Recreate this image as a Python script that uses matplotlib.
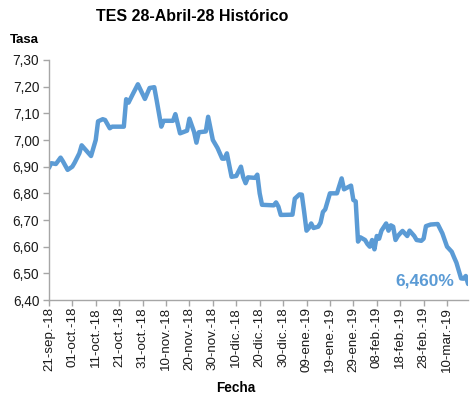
import matplotlib
matplotlib.use("Agg")
import matplotlib.pyplot as plt
import pandas as pd

plt.rcParams['font.family'] = ['Liberation Sans', 'DejaVu Sans']

title = "TES 28-Abril-28 Histórico"
y_label = "Tasa"
x_label = "Fecha"

dates = [
    "2018-09-21", "2018-09-22", "2018-09-24", "2018-09-26", "2018-09-27", "2018-09-29",
    "2018-10-01", "2018-10-02", "2018-10-04", "2018-10-05", "2018-10-07", "2018-10-09",
    "2018-10-11", "2018-10-12", "2018-10-14", "2018-10-15", "2018-10-17", "2018-10-18",
    "2018-10-23", "2018-10-24", "2018-10-25", "2018-10-27", "2018-10-29", "2018-11-01",
    "2018-11-03", "2018-11-05", "2018-11-06", "2018-11-08", "2018-11-09", "2018-11-13",
    "2018-11-14", "2018-11-16", "2018-11-19", "2018-11-20", "2018-11-22", "2018-11-23",
    "2018-11-24", "2018-11-27", "2018-11-28", "2018-11-30", "2018-12-02", "2018-12-04",
    "2018-12-05", "2018-12-06", "2018-12-08", "2018-12-10", "2018-12-12", "2018-12-13",
    "2018-12-14", "2018-12-15", "2018-12-18", "2018-12-19", "2018-12-20", "2018-12-21",
    "2018-12-26", "2018-12-27", "2018-12-28", "2018-12-29", "2019-01-03", "2019-01-04",
    "2019-01-06", "2019-01-07", "2019-01-08", "2019-01-09", "2019-01-10", "2019-01-11",
    "2019-01-12", "2019-01-14", "2019-01-15", "2019-01-16", "2019-01-17", "2019-01-19",
    "2019-01-22", "2019-01-24", "2019-01-25", "2019-01-28", "2019-01-29", "2019-01-30",
    "2019-01-31", "2019-02-01", "2019-02-03", "2019-02-04", "2019-02-05", "2019-02-06",
    "2019-02-07", "2019-02-08", "2019-02-09", "2019-02-10", "2019-02-12", "2019-02-13",
    "2019-02-14", "2019-02-15", "2019-02-16", "2019-02-17", "2019-02-18", "2019-02-19",
    "2019-02-21", "2019-02-22", "2019-02-24", "2019-02-25", "2019-02-27", "2019-02-28",
    "2019-03-01", "2019-03-03", "2019-03-06", "2019-03-08", "2019-03-10", "2019-03-12",
    "2019-03-13", "2019-03-14", "2019-03-16", "2019-03-17", "2019-03-18", "2019-03-19",
]

rates = [
    6.895, 6.913, 6.910, 6.934, 6.920, 6.888,
    6.900, 6.915, 6.950, 6.980, 6.960, 6.940,
    7.000, 7.070, 7.078, 7.075, 7.044, 7.050,
    7.050, 7.153, 7.140, 7.175, 7.209, 7.154,
    7.195, 7.198, 7.150, 7.050, 7.072, 7.072,
    7.097, 7.025, 7.035, 7.080, 7.030, 6.990,
    7.029, 7.032, 7.087, 7.000, 6.970, 6.930,
    6.930, 6.950, 6.862, 6.865, 6.900, 6.860,
    6.838, 6.860, 6.858, 6.870, 6.800, 6.757,
    6.755, 6.766, 6.750, 6.719, 6.720, 6.780,
    6.796, 6.795, 6.730, 6.660, 6.670, 6.687,
    6.670, 6.675, 6.690, 6.730, 6.740, 6.800,
    6.800, 6.856, 6.815, 6.829, 6.775, 6.770,
    6.619, 6.635, 6.625, 6.610, 6.600, 6.625,
    6.590, 6.640, 6.630, 6.660, 6.687, 6.660,
    6.680, 6.675, 6.625, 6.640, 6.650, 6.659,
    6.640, 6.660, 6.640, 6.625, 6.622, 6.630,
    6.677, 6.683, 6.685, 6.650, 6.600, 6.581,
    6.560, 6.540, 6.481, 6.480, 6.490, 6.460,
]

y_ticks = [6.40, 6.50, 6.60, 6.70, 6.80, 6.90, 7.00, 7.10, 7.20, 7.30]

month_abbr = {1: "ene.", 2: "feb.", 3: "mar.", 4: "abr.", 5: "may.", 6: "jun.",
              7: "jul.", 8: "ago.", 9: "sep.", 10: "oct.", 11: "nov.", 12: "dic."}

x = pd.to_datetime(dates)
line_color = "#5B9BD5"
axis_color = "#A6A6A6"
text_color = "#1a1a1a"

fig = plt.figure(figsize=(4.7, 4.0), dpi=100)
ax = fig.add_axes([0.104, 0.25, 0.892, 0.60])

ax.plot(x, rates, color=line_color, lw=3.2, solid_joinstyle='round', solid_capstyle='round')

ax.set_xlim(x[0], x[-1])
ax.set_ylim(y_ticks[0], y_ticks[-1])
ax.set_yticks(y_ticks)
ax.set_yticklabels([f"{v:.2f}".replace(".", ",") for v in y_ticks])

xt = pd.date_range(x[0], x[-1], freq="10D")
ax.set_xticks(xt)
ax.set_xticklabels([f"{d.day:02d}-{month_abbr[d.month]}-{d.strftime('%y')}" for d in xt],
                   rotation=90)

for s in ["top", "right"]:
    ax.spines[s].set_visible(False)
for s in ["left", "bottom"]:
    ax.spines[s].set_color(axis_color)
    ax.spines[s].set_linewidth(1.0)

ax.tick_params(axis="y", length=4, width=1, color=axis_color, pad=3,
               labelsize=9.8, labelcolor=text_color)
ax.tick_params(axis="x", length=4, width=1, color=axis_color, pad=1,
               labelsize=9.6, labelcolor=text_color)

last_label = f"{rates[-1]:.3f}%".replace(".", ",")
ax.annotate(last_label, xy=(x[-1], rates[-1]), xytext=(-14, 3),
            textcoords="offset pixels", ha="right", va="center",
            fontsize=12.5, fontweight="bold", color=line_color)

fig.text(0.409, 0.958, title, ha="center", va="center", fontsize=11.5,
         fontweight="bold", color="black")
fig.text(0.021, 0.9, y_label, ha="left", va="center", fontsize=9.5,
         fontweight="bold", color="black")
fig.text(0.502, 0.03, x_label, ha="center", va="center", fontsize=9.8,
         fontweight="bold", color="black")

fig.savefig("out.png", dpi=100)
